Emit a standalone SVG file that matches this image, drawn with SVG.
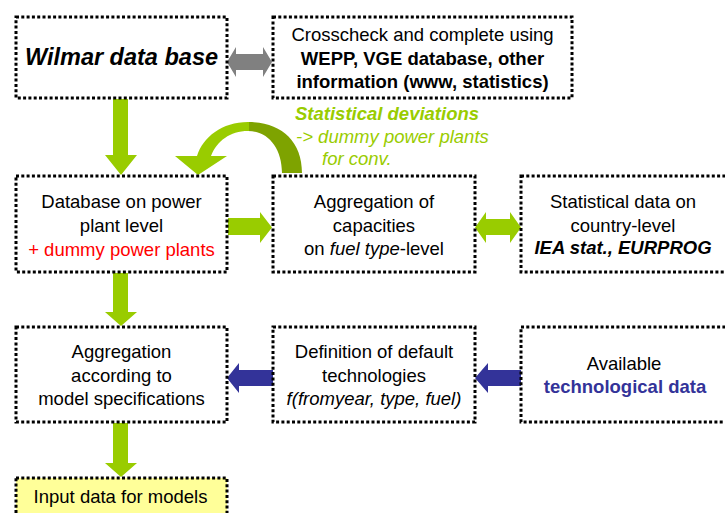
<svg xmlns="http://www.w3.org/2000/svg" width="725" height="513" viewBox="0 0 725 513">
<defs>
<style>
.box{fill:#ffffff;stroke:#000000;stroke-width:3;stroke-dasharray:3 2.3}
.yel{fill:#ffff99}
text{font-family:"Liberation Sans",Arial,Helvetica,sans-serif;font-size:18.5px;fill:#000000;text-anchor:middle}
.b{font-weight:bold}
.i{font-style:italic}
.red{fill:#ff0000}
.blue{fill:#333399}
.gt{fill:#99cc00;text-anchor:start}
.garrow{fill:#99cc00}
.barrow{fill:#333399}
.gray{fill:#808080}
</style>
<linearGradient id="curveGrad" gradientUnits="userSpaceOnUse" x1="175" y1="0" x2="302" y2="0">
<stop offset="0" stop-color="#99cc00"/>
<stop offset="0.58" stop-color="#99cc00"/>
<stop offset="0.58" stop-color="#7ea300"/>
<stop offset="1" stop-color="#7ea300"/>
</linearGradient>
</defs>
<rect width="725" height="513" fill="#ffffff"/>

<g id="connectors">
<polygon class="gray" points="227,62 236,47 236,54 263,54 263,47 272,62 263,77 263,70 236,70 236,77"/>
<polygon class="garrow" points="113,99 128,99 128,155 137,155 121,175 105,155 113,155"/>
<path fill="url(#curveGrad)" d="M 302 173 C 302 140, 280 122, 248 122 C 222 122, 203 137, 197 156 L 175 156 L 198 175 L 227 156 L 211 156 C 217 141, 230 131, 248 131 C 268 131, 282 148, 282 173 Z"/>
<polygon class="garrow" points="228,218 260,218 260,212 272,227.5 260,243 260,235 228,235"/>
<polygon class="garrow" points="475,227.5 486,212 486,219 510,219 510,212 521,227.5 510,243 510,235 486,235 486,243"/>
<polygon class="garrow" points="113,273 128,273 128,312 137,312 121,326 105,312 113,312"/>
<polygon class="barrow" points="273,370 239,370 239,363 227,378 239,393 239,386 273,386"/>
<polygon class="barrow" points="521,370 488,370 488,363 475,378 488,393 488,386 521,386"/>
<polygon class="garrow" points="113,423 128,423 128,463 137,463 121,477 105,463 113,463"/>
</g>

<g id="label-deviations">
<text class="gt b i" x="295" y="120">Statistical deviations</text>
<text class="gt i" x="296" y="142.5">-&gt; dummy power plants</text>
<text class="gt i" x="322" y="165">for conv.</text>
</g>

<g id="node-wilmar">
<rect class="box" x="16" y="17" width="211" height="81"/>
<text class="b i" x="121.5" y="65" style="font-size:23.5px">Wilmar data base</text>
</g>

<g id="node-crosscheck">
<rect class="box" x="273" y="17" width="299" height="81"/>
<text x="422.5" y="41">Crosscheck and complete using</text>
<text class="b" x="422.5" y="65">WEPP, VGE database, other</text>
<text class="b" x="422.5" y="88">information (www, statistics)</text>
</g>

<g id="node-database">
<rect class="box" x="16" y="176" width="211" height="96"/>
<text x="121.5" y="208">Database on power</text>
<text x="121.5" y="232">plant level</text>
<text class="red" x="121.5" y="256">+ dummy power plants</text>
</g>

<g id="node-aggregation-capacities">
<rect class="box" x="273" y="176" width="202" height="96"/>
<text x="374" y="208">Aggregation of</text>
<text x="374" y="232">capacities</text>
<text x="374" y="255">on <tspan class="i">fuel type</tspan>-level</text>
</g>

<g id="node-statistical">
<rect class="box" x="521" y="176" width="215" height="96"/>
<text x="623" y="208">Statistical data on</text>
<text x="623" y="232">country-level</text>
<text class="b i" x="623" y="254">IEA stat., EURPROG</text>
</g>

<g id="node-aggregation-model">
<rect class="box" x="16" y="327" width="211" height="95"/>
<text x="121.5" y="358">Aggregation</text>
<text x="121.5" y="382">according to</text>
<text x="121.5" y="405">model specifications</text>
</g>

<g id="node-definition">
<rect class="box" x="273" y="327" width="202" height="95"/>
<text x="374" y="358">Definition of default</text>
<text x="374" y="382">technologies</text>
<text class="i" x="374" y="405">f(fromyear, type, fuel)</text>
</g>

<g id="node-available">
<rect class="box" x="521" y="327" width="215" height="95"/>
<text x="624" y="370">Available</text>
<text class="b blue" x="625" y="393">technological data</text>
</g>

<g id="node-input">
<rect class="box yel" x="16" y="478" width="211" height="45"/>
<text x="120.5" y="503">Input data for models</text>
</g>
</svg>
